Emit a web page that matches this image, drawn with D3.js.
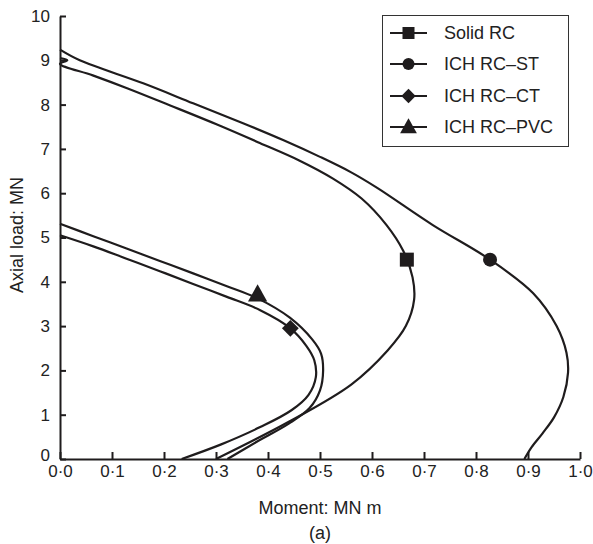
<!DOCTYPE html>
<html><head><meta charset="utf-8">
<script src="https://cdn.jsdelivr.net/npm/d3@7"></script>
<style>
html,body{margin:0;padding:0;background:#fff;}
svg{display:block;font-family:"Liberation Sans",Arial,sans-serif;}
</style></head>
<body><svg id="c" width="593" height="544"></svg>
<script>
// ---- data ----
const seriesNames = ["Solid RC", "ICH RC–ST", "ICH RC–CT", "ICH RC–PVC"];
const markerTypes = ["square", "circle", "diamond", "triangle"];
const xTicks = [0,0.1,0.2,0.3,0.4,0.5,0.6,0.7,0.8,0.9,1.0];
const xTickLabels = ["0·0","0·1","0·2","0·3","0·4","0·5","0·6","0·7","0·8","0·9","1·0"];
const yTicks = [0,1,2,3,4,5,6,7,8,9,10];
const yTickLabels = ["0","1","2","3","4","5","6","7","8","9","10"];
// curves: [moment MN m, axial load MN]
const solidRC = [[0,9.05],[0.014,9.0],[0,8.92],[0.063,8.66],[0.129,8.37],[0.212,7.98],[0.302,7.55],[0.385,7.13],[0.46,6.74],[0.525,6.33],[0.58,5.88],[0.628,5.28],[0.66,4.7],[0.678,4.1],[0.681,3.6],[0.665,3.0],[0.63,2.45],[0.56,1.68],[0.44,0.84],[0.3,0]];
const ichST = [[0,9.24],[0.038,9.0],[0.16,8.48],[0.256,8.03],[0.352,7.58],[0.429,7.2],[0.5,6.82],[0.56,6.47],[0.61,6.12],[0.717,5.28],[0.827,4.5],[0.91,3.74],[0.955,3.0],[0.974,2.4],[0.977,1.95],[0.968,1.4],[0.95,0.94],[0.928,0.58],[0.907,0.27],[0.893,0]];
const ichCT = [[0,5.05],[0.064,4.8],[0.128,4.52],[0.192,4.24],[0.256,3.95],[0.321,3.66],[0.385,3.36],[0.442,2.96],[0.474,2.55],[0.489,2.23],[0.492,1.85],[0.478,1.45],[0.445,1.1],[0.385,0.72],[0.31,0.33],[0.234,0]];
const ichPVC = [[0,5.31],[0.064,5.03],[0.128,4.75],[0.192,4.47],[0.256,4.19],[0.321,3.9],[0.381,3.62],[0.442,3.19],[0.485,2.7],[0.502,2.38],[0.506,2.0],[0.5,1.55],[0.48,1.15],[0.44,0.8],[0.38,0.4],[0.322,0]];
const markerPoints = [[0.667,4.5],[0.827,4.5],[0.443,2.95],[0.38,3.72]];
const curves = [solidRC, ichST, ichCT, ichPVC];

// ---- drawing ----
const svg = d3.select("#c");
const ink = "#1f1c1d";
const x = d3.scaleLinear().domain([0,1]).range([60,580]);
const y = d3.scaleLinear().domain([0,10]).range([459,16]);

const line = d3.line().x(d=>x(d[0])).y(d=>y(d[1])).curve(d3.curveCatmullRom.alpha(0.5));
svg.append("g").selectAll("path").data(curves).join("path")
  .attr("d", line).attr("fill","none").attr("stroke",ink).attr("stroke-width",2.2)
  .attr("stroke-linejoin","round");

function drawMarker(g, type, cx, cy, s) {
  if (type==="square") g.append("rect").attr("x",cx-s/2).attr("y",cy-s/2).attr("width",s).attr("height",s).attr("fill",ink);
  else if (type==="circle") g.append("circle").attr("cx",cx).attr("cy",cy).attr("r",s/2).attr("fill",ink);
  else if (type==="diamond") g.append("path").attr("d",`M${cx},${cy-s*0.6}L${cx+s*0.6},${cy}L${cx},${cy+s*0.6}L${cx-s*0.6},${cy}Z`).attr("fill",ink);
  else g.append("path").attr("d",`M${cx},${cy-s*0.62}L${cx+s*0.6},${cy+s*0.45}L${cx-s*0.6},${cy+s*0.45}Z`).attr("fill",ink);
}
const mg = svg.append("g");
markerPoints.forEach((p,i)=>drawMarker(mg, markerTypes[i], x(p[0]), y(p[1]), i===3?16:14));

// axes
const xa = svg.append("g").attr("transform",`translate(0,${y(0)})`)
  .call(d3.axisBottom(x).tickValues(xTicks).tickFormat((d,i)=>xTickLabels[i]).tickSize(-7).tickSizeOuter(0).tickPadding(6));
const ya = svg.append("g").attr("transform",`translate(${x(0)},0)`)
  .call(d3.axisLeft(y).tickValues(yTicks).tickFormat((d,i)=>yTickLabels[i]).tickSize(-6).tickSizeOuter(0).tickPadding(10));
[xa,ya].forEach(a=>{
  a.select(".domain").attr("stroke",ink).attr("stroke-width",2);
  a.selectAll(".tick line").attr("stroke",ink).attr("stroke-width",2);
  a.selectAll("text").attr("fill","#222").attr("font-size",17).attr("font-family","Liberation Sans, Arial, sans-serif");
});
// lift the y "0" label slightly so it clears the x "0·0" label
ya.selectAll(".tick").filter(d=>d===0).select("text").attr("dy","0.1em");

svg.append("text").attr("x",320).attr("y",514).attr("text-anchor","middle").attr("font-size",18).attr("fill","#222").text("Moment: MN m");
svg.append("text").attr("x",320).attr("y",539).attr("text-anchor","middle").attr("font-size",18).attr("fill","#222").text("(a)");
svg.append("text").attr("transform","translate(23,235) rotate(-90)").attr("text-anchor","middle").attr("font-size",18).attr("fill","#222").text("Axial load: MN");

// legend
const lg = svg.append("g");
lg.append("rect").attr("x",382.5).attr("y",15.5).attr("width",186).attr("height",131).attr("fill","#fff").attr("stroke","#333").attr("stroke-width",1);
const legY = [33,64,96,127];
seriesNames.forEach((n,i)=>{
  lg.append("line").attr("x1",390).attr("x2",427).attr("y1",legY[i]).attr("y2",legY[i]).attr("stroke",ink).attr("stroke-width",2);
  drawMarker(lg, markerTypes[i], 408.5, legY[i], i===3?14:12);
  lg.append("text").attr("x",444).attr("y",legY[i]).attr("dy","0.35em").attr("font-size",18).attr("fill","#222").text(n);
});
</script></body></html>
